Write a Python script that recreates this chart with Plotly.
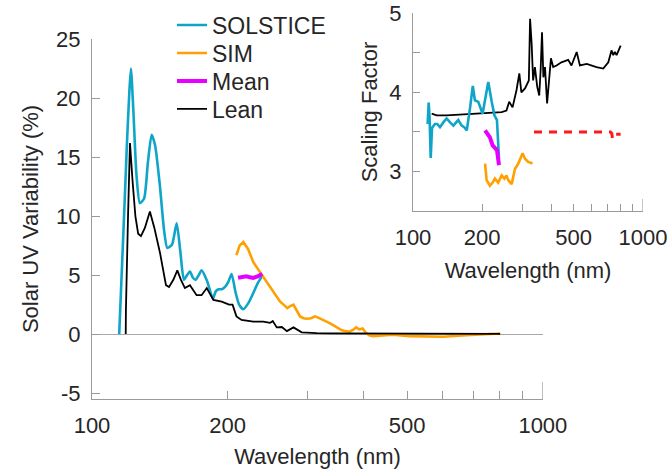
import plotly.graph_objects as go

# ---------------- Main panel data: Solar UV Variability (%) ----------------
sol_wl = [114.9, 117.5, 119.5, 121.0, 122.0, 123.5, 125.5, 127.7, 130.5, 133.0, 135.6, 138.0,
          141.5, 144.5, 146.9, 150.5, 154.1, 157.0, 159.9, 162.5, 164.9, 167.3, 169.7, 172.5,
          175.0, 180.0, 185.4, 188.0, 190.8, 194.0, 197.3, 200.5, 204.0, 208.0, 212.0, 216.6,
          222.0, 228.0, 233.0, 239.0]
sol_val = [0.0, 9.0, 16.0, 20.5, 22.5, 19.0, 13.5, 11.1, 11.5, 14.5, 16.9, 16.0,
           12.5, 8.8, 7.3, 7.6, 9.4, 7.0, 4.6, 5.0, 5.3, 4.8, 4.6, 5.0,
           5.4, 4.5, 3.0, 3.6, 3.8, 3.8, 4.0, 4.4, 5.1, 3.6, 2.5, 2.1,
           2.6, 3.5, 4.3, 5.0]

sim_wl = [209.1, 212.5, 216.6, 222.0, 227.9, 233.5, 239.8, 246.0, 252.2, 257.0, 261.4, 266.0,
          271.2, 276.0, 279.8, 284.5, 289.4, 294.5, 299.6, 306.0, 312.5, 319.0, 326.0, 334.0,
          342.7, 350.0, 357.3, 365.0, 372.7, 379.0, 385.4, 391.8, 398.4, 405.1, 412.0, 419.8,
          440.0, 465.0, 506.0, 550.0, 601.0, 676.0, 740.0, 804.0]
sim_val = [6.7, 7.5, 7.8, 7.2, 6.1, 5.5, 4.86, 4.2, 3.6, 3.1, 2.75, 2.5,
           2.2, 2.4, 2.5, 2.0, 1.5, 1.35, 1.3, 1.35, 1.5, 1.35, 1.2, 1.0,
           0.76, 0.55, 0.34, 0.25, 0.2, 0.35, 0.57, 0.4, 0.48, 0.1, -0.1, -0.17,
           -0.12, -0.06, -0.17, -0.2, -0.23, -0.1, -0.02, 0.05]

mean_wl = [210.8, 215.0, 220.0, 224.0, 227.9, 233.0, 238.6]
mean_val = [4.77, 4.85, 4.9, 4.82, 4.77, 4.9, 5.1]

lean_wl = [118.8, 118.9, 120.2, 121.4, 123.0, 124.8, 126.6, 128.4, 131.0, 134.4, 137.5, 141.5,
           145.9, 148.2, 151.5, 154.6, 157.5, 160.7, 164.9, 170.6, 175.0, 179.7, 185.9, 193.9,
           201.4, 205.0, 209.1, 214.6, 227.9, 239.8, 248.2, 251.7, 256.9, 263.6, 270.6, 279.8,
           291.8, 300.0, 315.0, 340.0, 370.0, 420.0, 500.0, 600.0, 700.0, 804.0]
lean_val = [0.0, 2.0, 10.0, 16.2, 13.0, 10.0, 8.5, 8.3, 9.0, 10.4, 9.0, 6.9,
            4.15, 4.0, 4.6, 5.4, 4.6, 3.9, 4.15, 3.3, 3.3, 3.9, 2.9, 2.75,
            2.5, 2.5, 1.5, 1.2, 1.05, 1.05, 0.95, 1.1, 0.57, 0.6, 0.25, 0.57,
            0.15, 0.12, 0.08, 0.06, 0.05, 0.03, 0.02, 0.02, 0.02, 0.02]

# ---------------- Inset data: Scaling Factor ----------------
in_sol_wl = [115.8, 117.0, 118.0, 119.4, 121.0, 124.5, 127.5, 131.0, 135.5, 140.0, 145.0, 149.8,
             157.3, 162.9, 167.0, 171.4, 177.2, 182.0, 185.9, 192.3, 200.7, 207.6, 212.5, 220.0,
             226.0, 231.8, 236.6]
in_sol_val = [3.6, 3.87, 3.7, 3.17, 3.55, 3.6, 3.6, 3.56, 3.62, 3.67, 3.62, 3.58,
              3.65, 3.58, 3.56, 3.52, 3.81, 4.08, 3.9, 3.88, 3.73, 3.98, 4.13, 3.88,
              3.71, 3.65, 3.16]

in_sim_wl = [205.8, 209.0, 216.0, 222.0, 227.0, 234.7, 243.0, 249.6, 255.0, 259.4, 268.6, 277.6,
             287.0, 299.7, 307.0, 317.0, 331.0]
in_sim_val = [3.1, 2.89, 2.82, 2.86, 2.91, 2.86, 2.95, 2.91, 2.95, 2.89, 2.84, 3.03,
              3.10, 3.23, 3.16, 3.12, 3.10]

in_mean_wl = [205.8, 216.0, 222.0, 231.8, 236.6]
in_mean_val = [3.52, 3.43, 3.33, 3.27, 3.08]

in_lean_wl = [120.6, 126.7, 140.0, 160.0, 180.0, 200.0, 220.0, 243.0, 255.0, 262.0, 271.0, 282.0,
              290.0, 296.0, 307.0, 315.0, 319.0, 323.0, 328.0, 333.0, 339.0, 347.0, 354.0, 359.0,
              364.0, 369.0, 375.0, 383.0, 390.0, 398.0, 407.0, 421.0, 442.0, 473.0, 489.0, 515.0,
              532.0, 570.0, 628.0, 672.0, 707.0, 730.0, 743.0, 755.0, 768.0, 800.0]
in_lean_val = [3.73, 3.71, 3.71, 3.72, 3.72, 3.73, 3.74, 3.75, 3.77, 3.88, 3.81, 4.03,
               4.24, 4.0, 4.05, 4.13, 4.15, 4.93, 4.62, 4.15, 4.32, 4.07, 3.96, 4.28,
               4.76, 4.19, 4.32, 3.86, 4.15, 4.43, 4.32, 4.34, 4.38, 4.41, 4.34, 4.51,
               4.34, 4.36, 4.32, 4.30, 4.38, 4.53, 4.47, 4.51, 4.47, 4.59]

in_red_wl = [336.0, 722.0, 732.0, 737.0, 745.0, 800.0]
in_red_val = [3.5, 3.5, 3.48, 3.42, 3.47, 3.47]

main_xticks = [100, 200, 500, 1000]
main_yticks = [-5, 0, 5, 10, 15, 20, 25]
inset_yticks = [3, 4, 5]
minor_x = [300, 400, 600, 700, 800, 900]

C_BLUE = "#0fa5c9"
C_ORANGE = "#ffa000"
C_MAG = "#e600ff"
C_BLACK = "#000000"
C_RED = "#ff1a1a"
FONT = "Liberation Sans, Arial, sans-serif"
TXT = "#262626"
AX = "#9a9a9a"

W, H = 668, 472
OFF = 0  # body margin removed via post_script

def px_x(a, b):
    return [(a - OFF) / W, (b - OFF) / W]
def px_y(top, bottom):
    return [1 - (bottom - OFF) / H, 1 - (top - OFF) / H]
def fy(p):
    return 1 - (p - OFF) / H
def fx(p):
    return (p - OFF) / W

fig = go.Figure()

fig.add_trace(go.Scatter(x=sol_wl, y=sol_val, mode="lines", name="SOLSTICE", legend="legend",
                         line=dict(color=C_BLUE, width=2.6, shape="spline", smoothing=0.6),
                         xaxis="x", yaxis="y"))
fig.add_trace(go.Scatter(x=sim_wl, y=sim_val, mode="lines", name="SIM", legend="legend2",
                         line=dict(color=C_ORANGE, width=2.6), xaxis="x", yaxis="y"))
fig.add_trace(go.Scatter(x=mean_wl, y=mean_val, mode="lines", name="Mean", legend="legend3",
                         line=dict(color=C_MAG, width=4), xaxis="x", yaxis="y"))
fig.add_trace(go.Scatter(x=lean_wl, y=lean_val, mode="lines", name="Lean", legend="legend4",
                         line=dict(color=C_BLACK, width=1.8), xaxis="x", yaxis="y"))

# inset
fig.add_trace(go.Scatter(x=in_lean_wl, y=in_lean_val, mode="lines", showlegend=False,
                         line=dict(color=C_BLACK, width=1.8), xaxis="x2", yaxis="y2"))
fig.add_trace(go.Scatter(x=in_sol_wl, y=in_sol_val, mode="lines", showlegend=False,
                         line=dict(color=C_BLUE, width=2.6), xaxis="x2", yaxis="y2"))
fig.add_trace(go.Scatter(x=in_sim_wl, y=in_sim_val, mode="lines", showlegend=False,
                         line=dict(color=C_ORANGE, width=2.6), xaxis="x2", yaxis="y2"))
fig.add_trace(go.Scatter(x=in_mean_wl, y=in_mean_val, mode="lines", showlegend=False,
                         line=dict(color=C_MAG, width=4), xaxis="x2", yaxis="y2"))
fig.add_trace(go.Scatter(x=in_red_wl, y=in_red_val, mode="lines", showlegend=False,
                         line=dict(color=C_RED, width=3, dash="8px,7px"), xaxis="x2", yaxis="y2"))

common_x = dict(type="log", showgrid=False, showline=True, linecolor=AX, linewidth=1,
                ticks="inside", tickcolor=AX, ticklen=8, mirror=False, automargin=False,
                tickfont=dict(size=22, color=TXT, family=FONT), ticklabeloverflow="allow",
                tickmode="array", tickvals=main_xticks, ticktext=[str(v) for v in main_xticks],
                minor=dict(tickmode="array", tickvals=minor_x, ticks="inside", ticklen=8, tickcolor=AX),
                zeroline=False)

def leg(ypx):
    return dict(x=fx(172), y=fy(ypx), xanchor="left", yanchor="middle",
                bgcolor="rgba(0,0,0,0)", font=dict(size=23, color=TXT, family=FONT),
                itemwidth=30, borderwidth=0)

fig.update_layout(
    width=W, height=H,
    margin=dict(l=0, r=0, t=0, b=0, autoexpand=False),
    paper_bgcolor="white", plot_bgcolor="rgba(0,0,0,0)",
    font=dict(family=FONT, color=TXT, size=22),
    showlegend=True,
    legend=leg(25), legend2=leg(53), legend3=leg(81), legend4=leg(109),
    xaxis=dict(common_x, domain=px_x(92, 543), range=[2, 3.0003], anchor="y",
               ticklabelstandoff=7,
               title=dict(text="Wavelength (nm)", font=dict(size=22, color=TXT, family=FONT), standoff=11)),
    yaxis=dict(domain=px_y(39, 399), range=[-5.5, 25.01], anchor="x", automargin=False,
               showgrid=False, showline=True, linecolor=AX, linewidth=1,
               ticks="inside", tickcolor=AX, ticklen=8, ticklabeloverflow="allow",
               tickvals=main_yticks, ticktext=[str(v) for v in main_yticks],
               tickfont=dict(size=22, color=TXT, family=FONT), ticklabelstandoff=6,
               zeroline=True, zerolinecolor="#a8a8a8", zerolinewidth=1.2,
               title=dict(text="Solar UV Variability (%)", font=dict(size=22, color=TXT, family=FONT), standoff=11)),
    xaxis2=dict(common_x, domain=px_x(413, 643), range=[2, 3.0003], anchor="y2",
                ticklen=7, minor=dict(tickmode="array", tickvals=minor_x, ticks="inside", ticklen=7, tickcolor=AX),
                ticklabelstandoff=7,
                title=dict(text="Wavelength (nm)", font=dict(size=22, color=TXT, family=FONT), standoff=13)),
    yaxis2=dict(domain=px_y(13, 211), range=[2.5, 5.003], anchor="x2", automargin=False,
                showgrid=False, showline=True, linecolor=AX, linewidth=1,
                ticks="inside", tickcolor=AX, ticklen=7, ticklabeloverflow="allow",
                tickvals=inset_yticks, ticktext=[str(v) for v in inset_yticks],
                minor=dict(tickmode="array", tickvals=[3.5, 4.5], ticks="inside", ticklen=7, tickcolor=AX),
                tickfont=dict(size=22, color=TXT, family=FONT), ticklabelstandoff=6,
                zeroline=False,
                title=dict(text="Scaling Factor", font=dict(size=22, color=TXT, family=FONT), standoff=5)),
)

# longer decade ticks at the right end of each x axis
fig.add_shape(type="line", xref="x", yref="y", x0=1000, x1=1000, y0=-5.5, y1=-5.5 + 17 / 11.8,
              line=dict(color=AX, width=1))
fig.add_shape(type="line", xref="x2", yref="y2", x0=1000, x1=1000, y0=2.5, y1=2.5 + 12 / 79,
              line=dict(color=AX, width=1))

fig.write_html("out.html", config={"displayModeBar": False},
               post_script="document.body.style.margin='0px';")
